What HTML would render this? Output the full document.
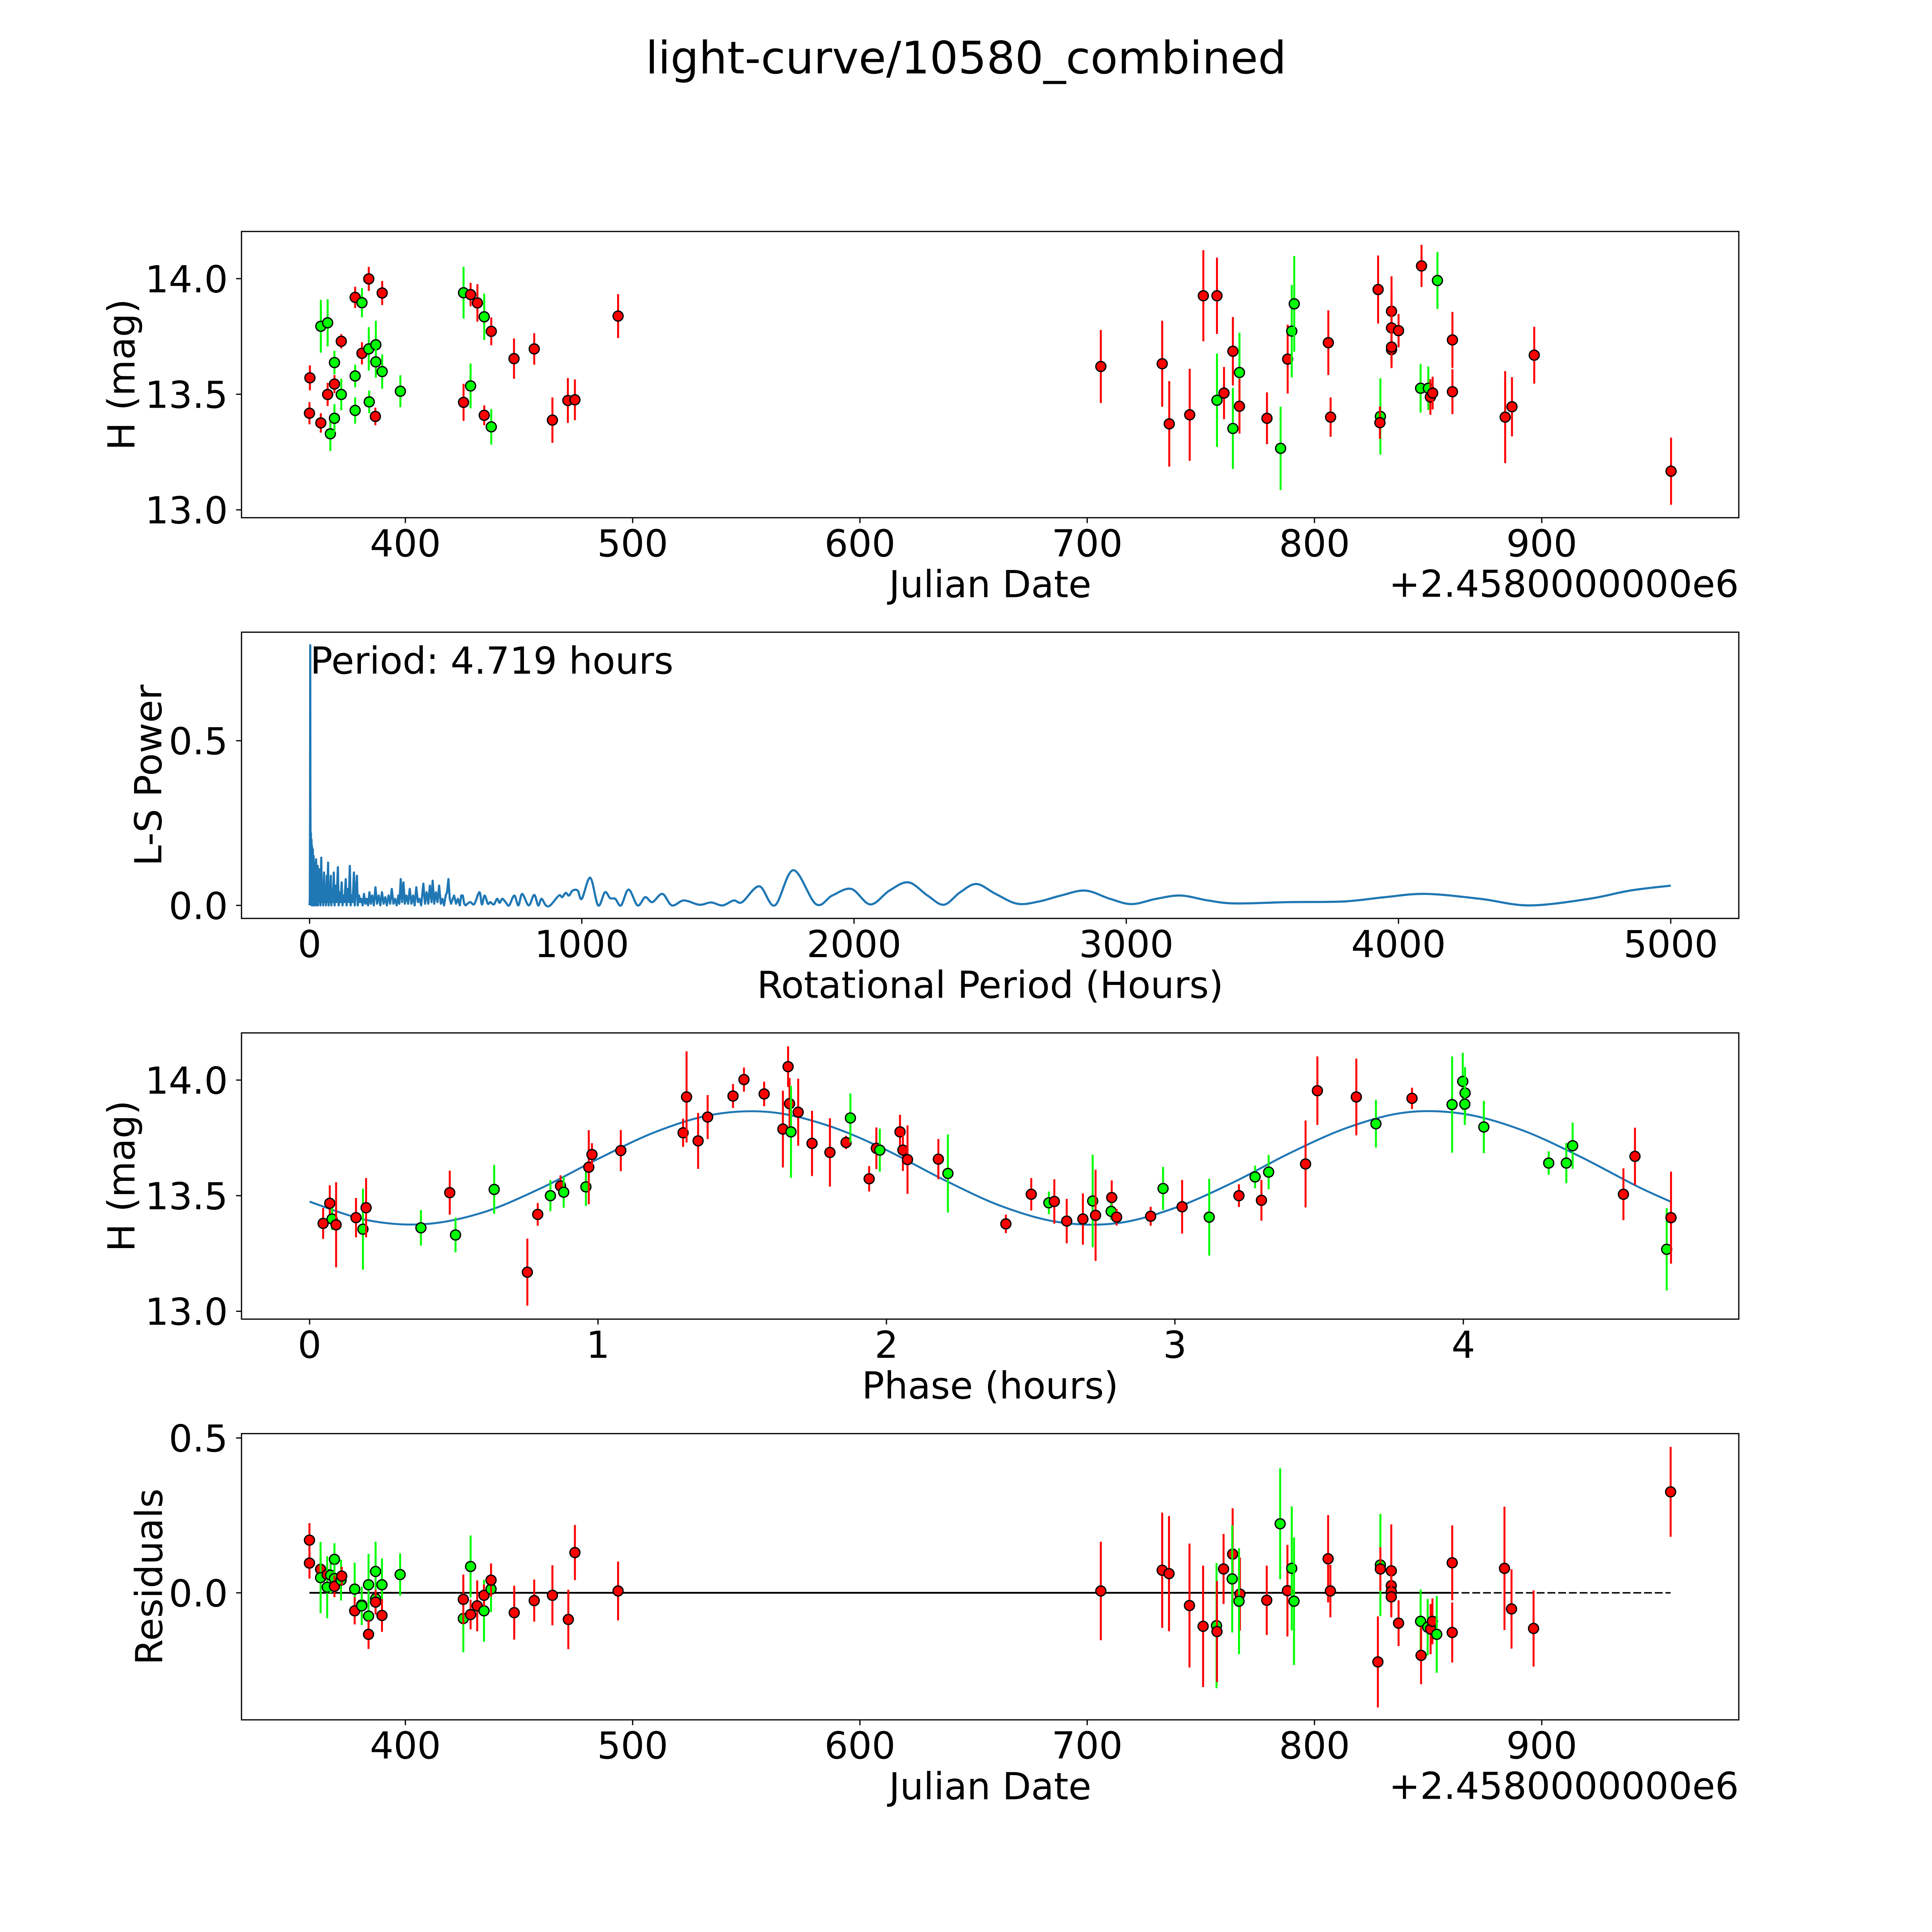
<!DOCTYPE html>
<html>
<head>
<meta charset="utf-8">
<style>
html,body{margin:0;padding:0;background:#fff;overflow:hidden;width:100%;height:100%;}
svg{display:block;width:100vw;height:100vh;font-family:"DejaVu Sans","Liberation Sans",sans-serif;}
</style>
</head>
<body>
<svg id="fig" xmlns="http://www.w3.org/2000/svg" viewBox="0 0 5400 5400" preserveAspectRatio="none">
<rect x="0" y="0" width="5400" height="5400" fill="#ffffff"/>
<text x="2700" y="205" font-size="125" text-anchor="middle" fill="#000">light-curve/10580_combined</text>
</svg>
<script>
// ---------- Panel 1: light curve (Julian Date) ----------
const jd1 = [358.0,357.8,362.8,362.8,365.8,365.8,367.0,368.8,368.8,368.8,371.8,371.8,377.9,377.9,377.9,380.9,380.9,383.9,383.9,384.1,387.0,387.0,386.8,389.8,389.8,397.8,425.6,428.7,431.7,434.7,437.8,428.7,425.6,434.7,437.8,447.8,456.7,464.7,471.5,474.6,493.6,
706.0,733.0,736.1,745.1,751.1,757.1,757.1,760.2,764.1,764.1,767.0,767.0,779.1,785.1,788.2,790.0,791.1,806.1,807.1,828.0,829.0,828.8,833.9,833.9,833.9,833.9,837.0,847.1,854.1,846.7,850.1,851.0,852.0,860.7,860.7,883.9,886.9,896.7,956.9];
const h1 = [13.571,13.418,13.376,13.794,13.809,13.499,13.329,13.396,13.637,13.544,13.729,13.499,13.919,13.579,13.43,13.896,13.677,13.999,13.696,13.467,13.714,13.64,13.404,13.938,13.598,13.513,13.939,13.931,13.895,13.835,13.772,13.536,13.465,13.409,13.359,13.654,13.696,13.388,13.473,13.476,13.838,
13.62,13.632,13.372,13.411,13.926,13.926,13.474,13.505,13.686,13.352,13.594,13.448,13.396,13.266,13.652,13.773,13.891,13.723,13.401,13.953,13.404,13.377,13.859,13.787,13.693,13.704,13.775,14.055,13.992,13.526,13.526,13.488,13.505,13.735,13.511,13.401,13.446,13.669,13.167];
const e1 = [0.054,0.048,0.042,0.114,0.102,0.05,0.074,0.061,0.051,0.039,0.031,0.068,0.046,0.049,0.057,0.063,0.048,0.052,0.094,0.049,0.104,0.068,0.038,0.052,0.074,0.069,0.112,0.051,0.081,0.1,0.06,0.097,0.08,0.043,0.077,0.087,0.068,0.098,0.097,0.088,0.095,
0.158,0.186,0.185,0.199,0.197,0.165,0.202,0.113,0.148,0.175,0.172,0.118,0.112,0.18,0.149,0.2,0.207,0.14,0.085,0.147,0.165,0.07,0.151,0.154,0.08,0.08,0.072,0.091,0.123,0.105,0.094,0.077,0.071,0.121,0.097,0.199,0.128,0.123,0.145];
const band1 = ["r","r","r","g","g","r","g","g","g","r","r","g","r","g","g","g","r","r","g","g","g","g","r","r","g","g","g","r","r","g","r","g","r","r","g","r","r","r","r","r","r",
"r","r","r","r","r","r","g","r","r","g","g","r","r","g","r","g","g","r","r","r","g","r","r","r","r","r","r","r","g","g","g","r","r","r","r","r","r","r","r"];

// ---------- Panel 2: Lomb-Scargle periodogram ----------
const lsPeriod = [0,1,2,2.5,3,4,5,6,7,8,9,10,12,13,15,16,18,19,21,22,24,25,27,28,30,31,33,35,38,40,43,45,48,50,53,55,58,60,63,65,68,70,73,75,78,80,83,86,89,92,96,99,104,107,111,114,118,121,125,128,133,136,140,144,148,151,155,158,163,166,170,174,177,182,186,190,195,200,205,210,215,220,225,230,236,242,248,254,260,266,272,278,284,290,296,302,308,314,320,326,330,335,340,345,350,356,362,368,374,380,386,392,398,404,410,418,424,430,436,442,448,452,458,464,470,476,482,488,494,500,505,510,515,520,526,531,538,545,552,557,563,568,573];
const lsPower = [0,0.02,0.3,0.79,0.35,0.05,0.22,0.02,0.2,0,0.18,0.03,0.17,0,0.15,0.02,0.13,0,0.1,0.01,0.14,0,0.09,0.02,0.12,0,0.08,0.01,0.11,0,0.145,0.01,0.07,0,0.1,0.01,0.06,0,0.09,0.01,0.13,0,0.06,0.01,0.09,0,0.05,0.01,0.1,0,0.06,0.01,0.116,0,0.04,0.01,0.07,0,0.03,0.01,0.08,0,0.05,0.01,0.12,0,0.03,0.01,0.1,0,0.04,0.09,0,0.03,0.01,0.02,0,0.035,0.005,0.02,0,0.04,0.005,0.03,0,0.055,0.005,0.03,0,0.04,0.005,0.025,0,0.03,0.005,0.05,0.005,0.02,0,0.03,0.005,0.08,0.01,0.07,0.005,0.03,0.005,0.05,0.005,0.03,0,0.055,0.01,0.02,0,0.066,0.005,0.04,0.005,0.06,0.01,0.075,0.005,0.04,0.01,0.06,0.005,0.02,0,0.03,0.04,0.08,0.02,0.005,0.02,0.03,0.005,0.02,0,0.03,0.03,0.005,0];
const lsSmoothPeriod = [573,590,605,624,633,643,655,664,677,689,698,708,720,733,752,767,781,805,825,840,852,868,884,916,928,941,953,966,985,1000,1031,1060,1085,1104,1123,1144,1172,1205,1233,1259,1296,1331,1375,1432,1475,1517,1558,1589,1652,1709,1777,1860,1920,1990,2060,2130,2200,2270,2330,2390,2450,2520,2600,2680,2760,2850,2940,3020,3110,3200,3300,3400,3600,3800,3950,4100,4300,4480,4700,4850,5000];
const lsSmoothPower = [0,0.01,0.004,0.04,0.003,0.03,0.005,0.01,0.003,0.02,0.008,0.02,0.01,0,0.03,0,0.035,0,0.032,0,0.02,0,0,0.03,0.025,0.038,0.03,0.045,0.045,0.02,0.084,0,0.04,0.022,0.02,0,0.048,0,0.025,0.01,0.035,0,0.015,0.002,0.009,0,0.015,0.01,0.058,0,0.107,0.004,0.03,0.05,0.003,0.045,0.07,0.03,0.002,0.04,0.065,0.035,0.005,0.012,0.03,0.045,0.02,0.004,0.02,0.03,0.015,0.006,0.01,0.012,0.025,0.035,0.02,0,0.02,0.045,0.06];

// ---------- Panel 3: phased light curve ----------
const ph3 = [0.047,0.070,0.078,0.092,0.161,0.185,0.196,0.386,0.486,0.506,0.640,0.755,0.791,0.835,0.870,0.881,0.958,0.968,0.979,1.079,1.295,1.307,1.347,1.380,1.468,1.506,1.576,1.641,1.659,1.664,1.669,1.694,1.742,1.804,1.860,1.875,1.940,1.965,1.977,2.047,2.057,2.073,2.180,2.213,2.414,
2.502,2.563,2.582,2.625,2.681,2.715,2.725,2.781,2.779,2.798,2.916,2.959,3.025,3.119,3.222,3.278,3.300,3.325,3.453,3.494,3.629,3.697,3.822,3.961,3.998,4.006,4.005,4.071,4.296,4.357,4.379,4.555,4.595,4.705,4.720];
const h3 = [13.380,13.467,13.399,13.374,13.405,13.355,13.448,13.361,13.513,13.330,13.527,13.169,13.419,13.500,13.542,13.515,13.538,13.623,13.678,13.695,13.772,13.927,13.737,13.840,13.931,14.002,13.940,13.788,14.058,13.898,13.776,13.861,13.726,13.687,13.730,13.836,13.573,13.705,13.697,13.776,13.697,13.656,13.658,13.596,13.378,
13.506,13.469,13.475,13.390,13.399,13.477,13.415,13.492,13.432,13.407,13.411,13.531,13.452,13.407,13.500,13.581,13.480,13.602,13.637,13.954,13.927,13.811,13.921,13.894,13.994,13.944,13.896,13.797,13.641,13.641,13.716,13.506,13.670,13.268,13.405];
const e3 = [0.067,0.078,0.047,0.184,0.085,0.175,0.128,0.077,0.095,0.075,0.106,0.145,0.049,0.067,0.046,0.067,0.083,0.16,0.049,0.089,0.061,0.197,0.121,0.095,0.052,0.052,0.053,0.166,0.088,0.111,0.199,0.145,0.141,0.148,0.029,0.106,0.055,0.09,0.093,0.074,0.09,0.148,0.087,0.169,0.04,
0.07,0.049,0.096,0.096,0.111,0.2,0.197,0.074,0.036,0.036,0.041,0.093,0.116,0.166,0.049,0.049,0.088,0.074,0.188,0.148,0.166,0.103,0.046,0.208,0.124,0.112,0.09,0.113,0.051,0.087,0.1,0.112,0.124,0.178,0.199];
const band3 = ["r","r","g","r","r","g","r","g","r","g","g","r","r","g","r","g","g","r","r","r","r","r","r","r","r","r","r","r","r","r","g","r","r","r","r","g","r","r","g","r","r","r","r","g","r",
"r","g","r","r","r","g","r","r","g","r","r","g","r","g","r","g","r","g","r","r","r","g","r","g","g","g","g","g","g","g","g","r","r","g","r"];
const modelPhase = [0,0.2,0.4,0.6,0.8,1.0,1.2,1.4,1.6,1.8,2.0,2.2,2.4,2.6,2.8,3.0,3.2,3.4,3.6,3.8,4.0,4.2,4.4,4.6,4.719];
const modelMag = [13.474,13.394,13.377,13.427,13.531,13.659,13.776,13.851,13.861,13.802,13.697,13.568,13.454,13.385,13.381,13.447,13.556,13.685,13.795,13.860,13.854,13.785,13.672,13.542,13.474];

// ---------- Panel 4: residuals ----------
const jd4 = [357.8,357.8,362.7,362.7,365.6,365.6,367.1,368.8,368.8,368.8,371.7,372.0,377.7,377.7,380.8,380.8,383.8,383.8,383.8,386.9,386.9,386.9,389.7,389.7,397.7,425.5,425.5,428.7,428.7,431.6,434.6,434.6,437.7,437.7,447.9,456.7,464.7,471.7,474.6,493.6,
706.0,733.0,736.0,745.0,751.0,756.9,757.1,760.0,764.0,763.8,767.2,766.8,779.0,784.9,788.1,790.0,791.0,806.0,807.0,827.9,829.0,829.0,833.8,833.8,833.8,833.8,837.0,846.7,846.9,849.8,851.1,851.9,853.8,860.6,860.6,883.6,886.7,896.4,956.7];
const res4 = [0.170,0.096,0.076,0.049,0.059,0.018,0.057,0.108,0.046,0.021,0.041,0.054,0.012,-0.058,-0.039,-0.042,0.026,-0.075,-0.134,0.069,-0.019,-0.030,0.026,-0.073,0.059,-0.083,-0.021,0.085,-0.070,-0.042,-0.058,-0.008,0.012,0.041,-0.064,-0.025,-0.008,-0.086,0.130,0.006,
0.006,0.073,0.062,-0.041,-0.108,-0.106,-0.125,0.077,0.125,0.045,-0.004,-0.027,-0.024,0.223,0.007,0.079,-0.027,0.110,0.006,-0.223,0.090,0.077,0.071,0.023,0.004,-0.013,-0.098,-0.092,-0.202,-0.111,-0.117,-0.092,-0.134,0.097,-0.128,0.079,-0.052,-0.115,0.326];
const e4 = [0.055,0.05,0.04,0.115,0.035,0.1,0.058,0.052,0.046,0.035,0.066,0.03,0.085,0.044,0.035,0.062,0.1,0.05,0.047,0.096,0.043,0.04,0.085,0.053,0.068,0.109,0.08,0.1,0.048,0.082,0.1,0.035,0.074,0.054,0.087,0.068,0.097,0.096,0.089,0.095,
0.159,0.186,0.186,0.2,0.196,0.202,0.163,0.113,0.148,0.173,0.118,0.171,0.112,0.179,0.148,0.2,0.206,0.141,0.085,0.147,0.165,0.07,0.15,0.057,0.06,0.06,0.074,0.103,0.093,0.091,0.081,0.074,0.124,0.121,0.097,0.199,0.128,0.123,0.145];
const band4 = ["r","r","r","g","r","g","g","g","g","r","g","r","g","r","r","g","g","g","r","g","g","r","g","r","g","g","r","g","r","r","g","r","g","r","r","r","r","r","r","r",
"r","r","r","r","r","g","r","r","r","g","r","g","r","g","r","g","g","r","r","r","g","r","r","r","r","r","r","g","r","g","r","r","g","r","r","r","r","r","r"];

// ---------- Tick labels ----------
const jdTicks = [400,500,600,700,800,900];
const magTicks = [13.0,13.5,14.0];
const magTickLabels = ["13.0","13.5","14.0"];
const lsXTicks = [0,1000,2000,3000,4000,5000];
const lsYTicks = [0.0,0.5];
const lsYTickLabels = ["0.0","0.5"];
const phaseTicks = [0,1,2,3,4];
const resTicks = [0.0,0.5];
const resTickLabels = ["0.0","0.5"];

// ---------- Layout ----------
const NS = "http://www.w3.org/2000/svg";
const svg = document.getElementById("fig");
const L = 675, R = 4860, PH = 800;
const TOPS = [647, 1767, 2887, 4007];
const FS = 104;
const RED = "#ff0000", GREEN = "#00ff00", BLUE = "#1f77b4";

function el(tag, parent) { const e = document.createElementNS(NS, tag); parent.appendChild(e); return e; }
function linScale(d0, d1, r0, r1) { return v => r0 + (v - d0) / (d1 - d0) * (r1 - r0); }

function makeAxes(idx, xdom, ydom, name) {
  const top = TOPS[idx], bot = top + PH;
  const g = el("g", svg);
  
  
  return { g, top, bot, sx: linScale(xdom[0], xdom[1], L, R), sy: linScale(ydom[0], ydom[1], bot, top) };
}

function drawFrame(ax, name) {
  const r = el("rect", ax.g);
  r.setAttribute("x", L); r.setAttribute("y", ax.top);
  r.setAttribute("width", R - L); r.setAttribute("height", PH);
  r.setAttribute("fill", "none"); r.setAttribute("stroke", "#000"); r.setAttribute("stroke-width", "3.4");
  
  
}

function drawXTicks(ax, vals, labels, name) {
  const g = el("g", ax.g);
  
  
  vals.forEach((v, i) => {
    const x = ax.sx(v);
    const t = el("line", g);
    t.setAttribute("x1", x); t.setAttribute("x2", x); t.setAttribute("y1", ax.bot); t.setAttribute("y2", ax.bot + 15);
    t.setAttribute("stroke", "#000"); t.setAttribute("stroke-width", "3.4");
    
    
    const tx = el("text", g);
    tx.setAttribute("x", x); tx.setAttribute("y", ax.bot + 108);
    tx.setAttribute("font-size", FS); tx.setAttribute("text-anchor", "middle");
    tx.textContent = labels[i];
    
    
  });
}

function drawYTicks(ax, vals, labels, name) {
  const g = el("g", ax.g);
  
  
  vals.forEach((v, i) => {
    const y = ax.sy(v);
    const t = el("line", g);
    t.setAttribute("x1", L - 15); t.setAttribute("x2", L); t.setAttribute("y1", y); t.setAttribute("y2", y);
    t.setAttribute("stroke", "#000"); t.setAttribute("stroke-width", "3.4");
    
    
    const tx = el("text", g);
    tx.setAttribute("x", L - 38); tx.setAttribute("y", y + 38);
    tx.setAttribute("font-size", FS); tx.setAttribute("text-anchor", "end");
    tx.textContent = labels[i];
    
    
  });
}

function drawXLabel(ax, text, name) {
  const t = el("text", ax.g);
  t.setAttribute("x", (L + R) / 2); t.setAttribute("y", ax.bot + 222);
  t.setAttribute("font-size", FS); t.setAttribute("text-anchor", "middle");
  t.textContent = text;
  
  
}

function drawYLabel(ax, text, bx, name) {
  const cy = (ax.top + ax.bot) / 2;
  const t = el("text", ax.g);
  t.setAttribute("x", bx); t.setAttribute("y", cy);
  t.setAttribute("transform", "rotate(-90 " + bx + " " + cy + ")");
  t.setAttribute("font-size", FS); t.setAttribute("text-anchor", "middle");
  t.textContent = text;
  
  
}

function drawOffset(ax) {
  const t = el("text", ax.g);
  t.setAttribute("x", R); t.setAttribute("y", ax.bot + 221);
  t.setAttribute("font-size", FS); t.setAttribute("text-anchor", "end");
  t.textContent = "+2.4580000000e6";
  
  
}

function drawPoints(ax, xs, ys, es, bands, name) {
  const g = el("g", ax.g);
  
  
  for (let i = 0; i < xs.length; i++) {
    const x = ax.sx(xs[i]), y = ax.sy(ys[i]);
    const col = bands[i] === "g" ? GREEN : RED;
    const b = el("line", g);
    b.setAttribute("x1", x); b.setAttribute("x2", x);
    b.setAttribute("y1", ax.sy(ys[i] - es[i])); b.setAttribute("y2", ax.sy(ys[i] + es[i]));
    b.setAttribute("stroke", col); b.setAttribute("stroke-width", "5.5");
    
    
    const c = el("circle", g);
    c.setAttribute("cx", x); c.setAttribute("cy", y); c.setAttribute("r", "14");
    c.setAttribute("fill", col); c.setAttribute("stroke", "#000"); c.setAttribute("stroke-width", "3.6");
    
    
  }
}

function catmull(pts) {
  let d = "M" + pts[0][0] + "," + pts[0][1];
  for (let i = 0; i < pts.length - 1; i++) {
    const p0 = pts[Math.max(0, i - 1)], p1 = pts[i], p2 = pts[i + 1], p3 = pts[Math.min(pts.length - 1, i + 2)];
    const c1x = p1[0] + (p2[0] - p0[0]) / 6, c1y = p1[1] + (p2[1] - p0[1]) / 6;
    const c2x = p2[0] - (p3[0] - p1[0]) / 6, c2y = p2[1] - (p3[1] - p1[1]) / 6;
    d += " C" + c1x + "," + c1y + " " + c2x + "," + c2y + " " + p2[0] + "," + p2[1];
  }
  return d;
}

// ----- Panel 1 -----
const ax1 = makeAxes(0, [327.9, 986.7], [12.966, 14.204], "light-curve-panel");
drawPoints(ax1, jd1, h1, e1, band1, "light-curve-points");
drawFrame(ax1, "light-curve-frame");
drawXTicks(ax1, jdTicks, jdTicks.map(String), "light-curve-x-ticks");
drawYTicks(ax1, magTicks, magTickLabels, "light-curve-y-ticks");
drawXLabel(ax1, "Julian Date", "light-curve-x-axis-title");
drawYLabel(ax1, "H (mag)", 376, "light-curve-y-axis-title");
drawOffset(ax1);

// ----- Panel 2 -----
const ax2 = makeAxes(1, [-250, 5250], [-0.0395, 0.8295], "periodogram-panel");
{
  let d = "";
  for (let i = 0; i < lsPeriod.length; i++) d += (i ? " L" : "M") + ax2.sx(lsPeriod[i]).toFixed(1) + "," + ax2.sy(lsPower[i]).toFixed(1);
  const pts = lsSmoothPeriod.map((p, i) => [ax2.sx(p), ax2.sy(lsSmoothPower[i])]);
  const sm = catmull(pts);
  const path = el("path", ax2.g);
  path.setAttribute("d", d + " L" + sm.slice(1));
  path.setAttribute("fill", "none"); path.setAttribute("stroke", BLUE); path.setAttribute("stroke-width", "6");
  path.setAttribute("stroke-linejoin", "round");
  
  
  const pt = el("text", ax2.g);
  pt.setAttribute("x", 867); pt.setAttribute("y", 1883);
  pt.setAttribute("font-size", FS);
  pt.textContent = "Period: 4.719 hours";
  
  
}
drawFrame(ax2, "periodogram-frame");
drawXTicks(ax2, lsXTicks, lsXTicks.map(String), "periodogram-x-ticks");
drawYTicks(ax2, lsYTicks, lsYTickLabels, "periodogram-y-ticks");
drawXLabel(ax2, "Rotational Period (Hours)", "periodogram-x-axis-title");
drawYLabel(ax2, "L-S Power", 451, "periodogram-y-axis-title");

// ----- Panel 3 -----
const ax3 = makeAxes(2, [-0.236, 4.955], [12.966, 14.204], "phased-curve-panel");
{
  const pts = modelPhase.map((p, i) => [ax3.sx(p), ax3.sy(modelMag[i])]);
  const path = el("path", ax3.g);
  path.setAttribute("d", catmull(pts));
  path.setAttribute("fill", "none"); path.setAttribute("stroke", BLUE); path.setAttribute("stroke-width", "5.5");
  
  
}
drawPoints(ax3, ph3, h3, e3, band3, "phased-points");
drawFrame(ax3, "phased-curve-frame");
drawXTicks(ax3, phaseTicks, phaseTicks.map(String), "phased-x-ticks");
drawYTicks(ax3, magTicks, magTickLabels, "phased-y-ticks");
drawXLabel(ax3, "Phase (hours)", "phased-x-axis-title");
drawYLabel(ax3, "H (mag)", 376, "phased-y-axis-title");

// ----- Panel 4 -----
const ax4 = makeAxes(3, [327.9, 986.7], [-0.41, 0.514], "residuals-panel");
{
  const zSolidEnd = 860;
  const z = el("line", ax4.g);
  z.setAttribute("x1", ax4.sx(jd4[0])); z.setAttribute("x2", ax4.sx(zSolidEnd));
  z.setAttribute("y1", ax4.sy(0)); z.setAttribute("y2", ax4.sy(0));
  z.setAttribute("stroke", "#000"); z.setAttribute("stroke-width", "5");
  
  
  const zd = el("line", ax4.g);
  zd.setAttribute("x1", ax4.sx(zSolidEnd)); zd.setAttribute("x2", ax4.sx(jd4[jd4.length - 1]));
  zd.setAttribute("y1", ax4.sy(0)); zd.setAttribute("y2", ax4.sy(0));
  zd.setAttribute("stroke", "#000"); zd.setAttribute("stroke-width", "4");
  zd.setAttribute("stroke-dasharray", "22 8");
  
  
}
drawPoints(ax4, jd4, res4, e4, band4, "residual-points");
drawFrame(ax4, "residuals-frame");
drawXTicks(ax4, jdTicks, jdTicks.map(String), "residuals-x-ticks");
drawYTicks(ax4, resTicks, resTickLabels, "residuals-y-ticks");
drawXLabel(ax4, "Julian Date", "residuals-x-axis-title");
drawYLabel(ax4, "Residuals", 453, "residuals-y-axis-title");
drawOffset(ax4);
</script>
</body>
</html>
